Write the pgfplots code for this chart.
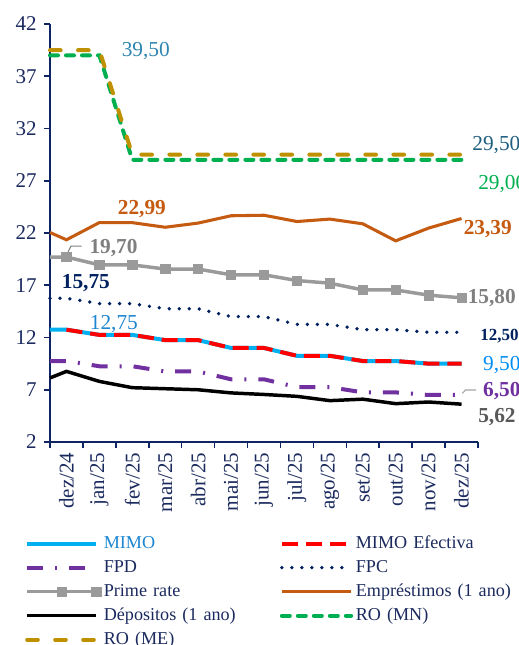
\documentclass[border=0pt]{standalone}
\usepackage{pgfplots}
\pgfplotsset{compat=1.18}
\usepackage{pgfplotstable}
\usepackage{fontspec}
\setmainfont{Liberation Serif}

\definecolor{axisnavy}{HTML}{0F2463}
\definecolor{textnavy}{HTML}{1B2A5E}
\definecolor{mimocyan}{HTML}{00B0F0}
\definecolor{mimoblue}{HTML}{1C86D1}
\definecolor{efred}{HTML}{FF0000}
\definecolor{fpdpurple}{HTML}{7030A0}
\definecolor{fpcnavy}{HTML}{002060}
\definecolor{primegray}{HTML}{9A9A9A}
\definecolor{labgray}{HTML}{7F7F7F}
\definecolor{darkgray}{HTML}{595959}
\definecolor{emporange}{HTML}{C55A11}
\definecolor{rogreen}{HTML}{00B050}
\definecolor{rogold}{HTML}{BF9000}
\definecolor{roteal}{HTML}{2F86B0}
\definecolor{rodark}{HTML}{1F5F7F}

\newcommand{\lab}{\fontsize{16}{19}\selectfont}

% taxas (%), x = -0.5 e a borda esquerda do eixo
\pgfplotstableread{
x    mimo   fpd   fpc    prime  emp    dep   romn  rome
-0.5 12.75  9.75  15.75  19.70  22.05  8.13  39.0  39.5
0    12.75  9.75  15.75  19.70  21.35  8.76  39.0  39.5
1    12.25  9.25  15.25  18.95  23.00  7.80  39.0  39.5
2    12.25  9.25  15.25  18.95  22.99  7.20  29.0  29.5
3    11.75  8.75  14.75  18.55  22.55  7.10  29.0  29.5
4    11.75  8.75  14.75  18.55  22.95  7.00  29.0  29.5
5    11.00  8.00  14.00  18.00  23.65  6.70  29.0  29.5
6    11.00  8.00  14.00  18.00  23.70  6.55  29.0  29.5
7    10.25  7.25  13.25  17.45  23.10  6.37  29.0  29.5
8    10.25  7.25  13.25  17.20  23.33  5.96  29.0  29.5
9    9.75   6.75  12.75  16.55  22.88  6.10  29.0  29.5
10   9.75   6.75  12.75  16.55  21.25  5.67  29.0  29.5
11   9.50   6.50  12.50  16.05  22.47  5.83  29.0  29.5
12   9.50   6.50  12.50  15.80  23.39  5.62  29.0  29.5
}\rates

\pgfplotstableread{
x    mimoef
0    12.75
1    12.25
2    12.25
3    11.75
4    11.75
5    11.00
6    11.00
7    10.25
8    10.25
9    9.75
10   9.75
11   9.50
12   9.50
}\efectiva

\begin{document}
\begin{tikzpicture}
\begin{axis}[
  scale only axis, width=321pt, height=313.5pt,
  xmin=-0.5, xmax=12.5, ymin=2, ymax=42,
  ytick={2,7,12,17,22,27,32,37,42},
  xtick={-0.5,0.5,1.5,2.5,3.5,4.5,5.5,6.5,7.5,8.5,9.5,10.5,11.5,12.5},
  x tick label as interval,
  xticklabels={dez/24,jan/25,fev/25,mar/25,abr/25,mai/25,jun/25,jul/25,ago/25,set/25,out/25,nov/25,dez/25},
  axis x line*=bottom, axis y line*=left,
  axis line style={axisnavy, line width=1.5pt, -},
  tick style={axisnavy, line width=1.2pt},
  tick align=outside, major tick length=4.5pt,
  /pgf/number format/assume math mode=true,
  tick label style={font=\fontsize{15.75}{18}\selectfont, text=textnavy},
  y tick label style={xshift=-2pt},
  x tick label style={rotate=90, anchor=east},
  clip=false,
  legend columns=2,
  legend cell align=left,
  legend image code/.code={\draw[mark repeat=2,mark phase=2,#1] plot coordinates {(0pt,0pt) (26pt,0pt) (52pt,0pt)};},
  legend style={
    at={(-0.068,-0.2105)}, anchor=north west,
    draw=none, fill=none,
    font=\fontsize{13.6}{16}\selectfont, text=textnavy,
    /tikz/every odd column/.append style={column sep=1pt},
    nodes={text height=10pt, text depth=3pt, inner ysep=1.5pt, inner xsep=1pt, text width=131pt, align=left},
    row sep=2pt,
  },
]
\addplot[mimocyan, line width=3pt] table[x=x, y=mimo] {\rates};
\addlegendentry{\textcolor{mimoblue}{MIMO}}
\addplot[efred, line width=3pt, dash pattern=on 12pt off 6pt] table[x=x, y=mimoef] {\efectiva};
\addlegendentry{MIMO Efectiva}
\addplot[fpdpurple, line width=3pt, dash pattern=on 12pt off 9pt on 1.5pt off 9pt] table[x=x, y=fpd] {\rates};
\addlegendentry{FPD}
\addplot[fpcnavy, line width=2.8pt, line cap=round, dash pattern=on 0pt off 7.5pt] table[x=x, y=fpc] {\rates};
\addlegendentry{FPC}
\addplot[primegray, line width=2.6pt, mark=square*, mark size=3.5pt, mark options={solid, fill=primegray, draw=primegray, line width=0.5pt}, mark indices={2,...,14}] table[x=x, y=prime] {\rates};
\addlegendentry{Prime rate}
\addplot[emporange, line width=2.3pt] table[x=x, y=emp] {\rates};
\addlegendentry{Empréstimos (1 ano)}
\addplot[black, line width=2.6pt] table[x=x, y=dep] {\rates};
\addlegendentry{Dépositos (1 ano)}
\addplot[rogreen, line width=3pt, line cap=round, dash pattern=on 6pt off 6pt] table[x=x, y=romn] {\rates};
\addlegendentry{RO (MN)}
\addplot[rogold, line width=3pt, line cap=round, dash pattern=on 8pt off 13pt] table[x=x, y=rome] {\rates};
\addlegendentry{RO (ME)}

% rotulos
\node[text=roteal, font=\lab] at (axis cs:2.41,39.37) {39,50};
\node[anchor=west, inner sep=0pt, text=rodark, font=\lab] at (axis cs:12.32,30.42) {29,50};
\node[anchor=west, inner sep=0pt, text=rogreen, font=\lab] at (axis cs:12.5,26.64) {29,00};
\node[text=emporange, font=\lab\bfseries] at (axis cs:2.29,24.25) {22,99};
\node[anchor=west, inner sep=0pt, text=emporange, font=\lab\bfseries] at (axis cs:12.06,22.38) {23,39};
\node[text=labgray, font=\lab\bfseries] at (axis cs:1.43,20.52) {19,70};
\draw[labgray, line width=0.8pt] (axis cs:0.05,20.21) -- (axis cs:0.14,20.75) -- (axis cs:0.46,20.75);
\node[text=fpcnavy, font=\lab\bfseries] at (axis cs:0.59,17.22) {15,75};
\node[text=mimoblue, font=\lab] at (axis cs:1.44,13.24) {12,75};
\node[anchor=west, inner sep=0pt, text=labgray, font=\lab\bfseries] at (axis cs:12.18,15.73) {15,80};
\node[anchor=west, inner sep=0pt, text=fpcnavy, font=\fontsize{12.75}{15}\selectfont\bfseries] at (axis cs:12.56,12.1) {12,50};
\node[anchor=west, inner sep=0pt, text=mimocyan!80!blue, font=\lab] at (axis cs:12.65,9.37) {9,50};
\node[anchor=west, inner sep=0pt, text=fpdpurple, font=\lab\bfseries] at (axis cs:12.65,6.83) {6,50};
\draw[labgray!70, line width=0.8pt] (axis cs:12.02,6.66) -- (axis cs:12.12,6.98) -- (axis cs:12.44,6.98);
\node[anchor=west, inner sep=0pt, text=darkgray, font=\lab\bfseries] at (axis cs:12.5,4.34) {5,62};

\coordinate (bbA) at (rel axis cs:-0.1168,1.0574);
\coordinate (bbB) at (rel axis cs:1.0935,-0.4856);
\end{axis}
\pgfresetboundingbox
\useasboundingbox (bbA) rectangle (bbB);
\end{tikzpicture}
\end{document}
